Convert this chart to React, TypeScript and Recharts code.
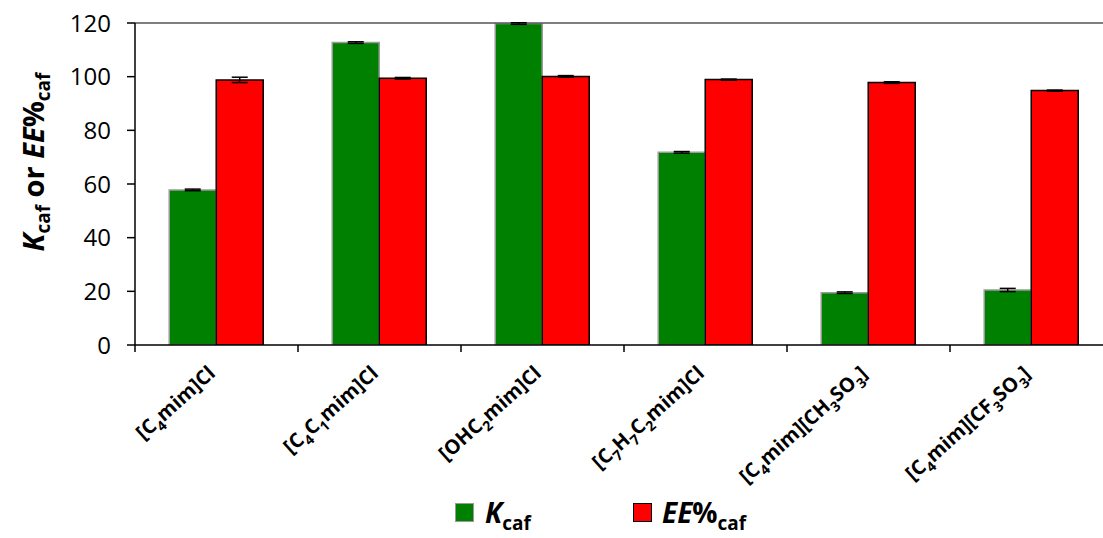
import React from 'react';
import {
  BarChart,
  Bar,
  XAxis,
  YAxis,
  ErrorBar,
  ReferenceLine,
  Legend,
} from 'recharts';

// Ionic liquids tested (digits are rendered as subscripts)
const categories = [
  '[C4mim]Cl',
  '[C4C1mim]Cl',
  '[OHC2mim]Cl',
  '[C7H7C2mim]Cl',
  '[C4mim][CH3SO3]',
  '[C4mim][CF3SO3]',
];
const kcaf = [57.8, 112.7, 119.8, 71.8, 19.5, 20.5];
const kcafErr = [0.3, 0.3, 0.3, 0.3, 0.3, 0.6];
const eeCaf = [98.8, 99.4, 100.1, 98.9, 97.8, 94.8];
const eeCafErr = [1.0, 0.3, 0.3, 0.2, 0.3, 0.2];
const yTicks = [0, 20, 40, 60, 80, 100, 120];

const data = categories.map((name, i) => ({
  name,
  kcaf: kcaf[i],
  kcafErr: kcafErr[i],
  ee: eeCaf[i],
  eeErr: eeCafErr[i],
}));

const FONT = '"Open Sans", sans-serif';
const GREEN = '#008000';
const RED = '#FF0000';
const BAND = 163;
const ANGLE = -42;

// split "[C4mim]Cl" into text / subscript pieces
const pieces = (s: string) => s.match(/\d+|\D+/g) || [];

const CategoryTick = (props: any) => {
  const { x, payload, index } = props;
  const y = 345;
  const parts = pieces(payload.value);
  let shifted = false;
  const tx = x;
  const ty = y + 30;
  return (
    <g>
      <line x1={x - BAND / 2} y1={y} x2={x - BAND / 2} y2={y + 7} stroke="#000" strokeWidth={1.5} />
      {index === categories.length - 1 && (
        <line x1={x + BAND / 2} y1={y} x2={x + BAND / 2} y2={y + 7} stroke="#000" strokeWidth={1.5} />
      )}
      <g transform={`translate(${tx} ${ty}) rotate(${ANGLE})`}>
        <text x={0} y={0} textAnchor="end" fontFamily={FONT} fontWeight="bold" fontSize={20} fill="#000">
          {parts.map((p, i) => {
            const isSub = /\d/.test(p);
            let dy = 0;
            if (isSub && !shifted) { dy = 6; shifted = true; }
            else if (!isSub && shifted) { dy = -6; shifted = false; }
            return (
              <tspan key={i} dy={dy} fontSize={isSub ? 14 : 20}>{p}</tspan>
            );
          })}
        </text>
      </g>
    </g>
  );
};

const YLabel = () => (
  <text
    transform="translate(44,162) rotate(-90)"
    textAnchor="middle"
    fontFamily={FONT}
    fontWeight="bold"
    fontSize={29}
    fill="#000"
  >
    <tspan fontStyle="italic">K</tspan>
    <tspan fontSize={19} dy={6}>caf</tspan>
    <tspan dy={-6}> or </tspan>
    <tspan fontStyle="italic">EE</tspan>
    <tspan>%</tspan>
    <tspan fontSize={19} dy={6}>caf</tspan>
  </text>
);

const LegendContent = () => (
  <div style={{ position: 'relative', width: 1103, height: 43, fontFamily: FONT, fontWeight: 'bold', color: '#000' }}>
    <div style={{ position: 'absolute', left: 455, top: 8, width: 17, height: 17, background: GREEN, border: '1px solid #999' }} />
    <div style={{ position: 'absolute', left: 485, top: 0, fontSize: 28, lineHeight: '34px', whiteSpace: 'nowrap' }}>
      <i>K</i><sub style={{ fontSize: 19 }}>caf</sub>
    </div>
    <div style={{ position: 'absolute', left: 633, top: 8, width: 17, height: 17, background: RED, border: '1px solid #000' }} />
    <div style={{ position: 'absolute', left: 662, top: 0, fontSize: 28, lineHeight: '34px', whiteSpace: 'nowrap' }}>
      <i>EE</i>%<sub style={{ fontSize: 19 }}>caf</sub>
    </div>
  </div>
);

export default function App() {
  return (
    <div style={{ position: 'absolute', left: 0, top: 0, width: 1103, height: 538, overflow: 'hidden', background: '#fff' }}>
      <BarChart
        width={1120}
        height={538}
        data={data}
        margin={{ top: 23, right: 7, left: 0, bottom: 0 }}
        barCategoryGap="21%"
        barGap={0}
      >
        <ReferenceLine y={120} stroke="#555" strokeWidth={1.5} />
        <XAxis
          dataKey="name"
          interval={0}
          height={150}
          tick={<CategoryTick />}
          tickLine={false}
          tickSize={0}
          axisLine={{ stroke: '#000', strokeWidth: 1.5 }}
        />
        <YAxis
          width={135}
          domain={[0, 120]}
          ticks={yTicks}
          allowDataOverflow
          tickSize={8}
          tickMargin={16}
          tick={{ fill: '#000', fontSize: 24, fontFamily: FONT }}
          tickLine={{ stroke: '#000', strokeWidth: 1.5 }}
          axisLine={{ stroke: '#000', strokeWidth: 1.5 }}
          label={<YLabel />}
        />
        <Legend verticalAlign="bottom" height={43} wrapperStyle={{ left: 0, width: 1103 }} content={<LegendContent />} />
        <Bar dataKey="kcaf" fill={GREEN} stroke="#9a9a9a" strokeWidth={1.5} isAnimationActive={false}>
          <ErrorBar dataKey="kcafErr" width={8} stroke="#000" strokeWidth={1.5} />
        </Bar>
        <Bar dataKey="ee" fill={RED} stroke="#000" strokeWidth={1.5} isAnimationActive={false}>
          <ErrorBar dataKey="eeErr" width={8} stroke="#000" strokeWidth={1.5} />
        </Bar>
      </BarChart>
    </div>
  );
}
